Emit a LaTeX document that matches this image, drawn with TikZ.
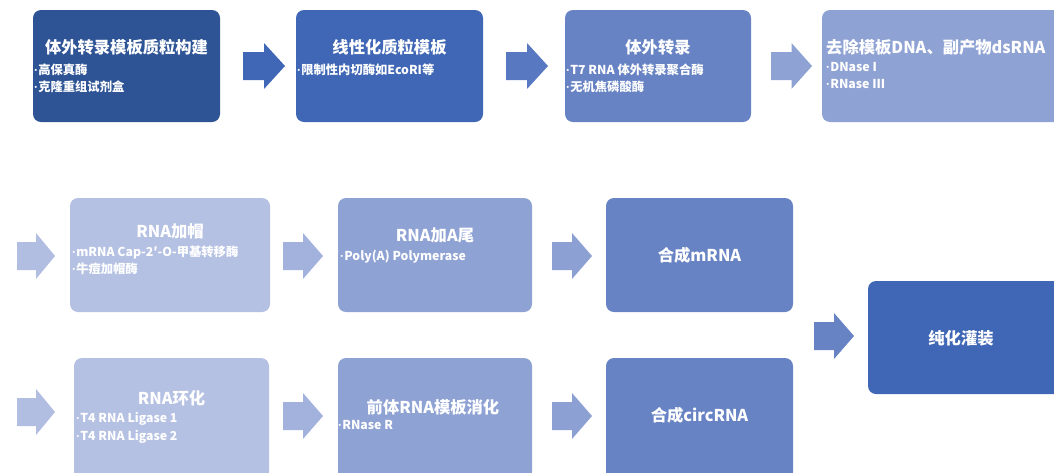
\documentclass[tikz,border=0pt]{standalone}
\usepackage{fontspec}
\setmainfont{Noto Sans CJK SC}
\newfontfamily\dotfont{Liberation Sans}
\newcommand\bu{{\dotfont\bfseries ·}}
\definecolor{cA}{RGB}{46,84,150}
\definecolor{cB}{RGB}{64,103,181}
\definecolor{cC}{RGB}{103,131,196}
\definecolor{cD}{RGB}{143,162,212}
\definecolor{cE}{RGB}{181,193,227}
\definecolor{aB}{RGB}{88,120,193}
\definecolor{aE}{RGB}{178,190,225}
\definecolor{aF}{RGB}{163,178,220}
\definecolor{aG}{RGB}{141,160,211}
\tikzset{
  boxshape/.style={rounded corners=8pt},
  title/.style={text=white,font=\bfseries\fontsize{16.3}{18}\selectfont,inner sep=0pt},
  bul/.style={text=white,font=\bfseries\fontsize{12.3}{17.5}\selectfont,inner sep=0pt,align=left,anchor=north west},
}
% block arrow: #1 name, #2 left x, #3 centre y, #4 length, #5 colour
\newcommand\blockarrow[5]{%
  \coordinate (#1) at (#2,#3);
  \fill[#5] ($(#1)+(0,-14)$) -- ($(#1)+(#4*0.5,-14)$) -- ($(#1)+(#4*0.5,-23)$)
    -- ($(#1)+(#4,0)$) -- ($(#1)+(#4*0.5,23)$) -- ($(#1)+(#4*0.5,14)$)
    -- ($(#1)+(0,14)$) -- cycle;}
\usetikzlibrary{calc}
\begin{document}
\begin{tikzpicture}[x=1pt,y=-1pt]
\useasboundingbox (0,0) rectangle (1054,472);
\clip (0,0) rectangle (1054,472);
% row 1
\fill[cA,boxshape] (33,10) rectangle (220,122);
\node[title] (t1) at (126.5,47) {体外转录模板质粒构建};
\node[bul] (b1) at (34,63.5) {\bu 高保真酶\\\bu 克隆重组试剂盒};
\blockarrow{a1}{243}{66}{42}{cB}
\fill[cB,boxshape] (296,10) rectangle (483,122);
\node[title] (t2) at (389.5,47) {线性化质粒模板};
\node[bul] (b2) at (297,63.5) {\bu 限制性内切酶如EcoRI等};
\blockarrow{a2}{506}{66}{42}{aB}
\fill[cC,boxshape] (565,10) rectangle (751,122);
\node[title] (t3) at (658,47) {体外转录};
\node[bul] (b3) at (566,63.5) {\bu T7 RNA 体外转录聚合酶\\\bu 无机焦磷酸酶};
\blockarrow{a3}{771}{66}{41}{cD}
\fill[cD,boxshape] (822,10) rectangle (1070,122);
\node[title,anchor=west] (t4) at (826,47) {去除模板DNA、副产物dsRNA};
\node[bul] (b4) at (826,62) {\bu DNase I\\\bu RNase III};
% row 2
\blockarrow{a4}{17}{256}{38}{aE}
\fill[cE,boxshape] (70,198) rectangle (270,312);
\node[title] (t5) at (170,231) {RNA加帽};
\node[bul] (b5) at (72,245.5) {\bu mRNA Cap-2′-O-甲基转移酶\\\bu 牛痘加帽酶};
\blockarrow{a5}{283}{256}{40}{aF}
\fill[cD,boxshape] (338,198) rectangle (532,312);
\node[title] (t6) at (435,235) {RNA加A尾};
\node[bul] (b6) at (340,250) {\bu Poly(A) Polymerase};
\blockarrow{a6}{552}{256}{40}{aG}
\fill[cC,boxshape] (606,198) rectangle (793,312);
\node[title] (t7) at (699.5,255) {合成mRNA};
% purification
\blockarrow{a7}{814}{336}{40}{cC}
\fill[cB,boxshape] (868,281) rectangle (1070,394);
\node[title] (t8) at (961,338) {纯化灌装};
% row 3
\blockarrow{a8}{17}{412}{38}{aE}
\fill[cE,boxshape] (74,358) rectangle (269,480);
\node[title] (t9) at (171.5,398) {RNA环化};
\node[bul] (b9) at (76,412.5) {\bu T4 RNA Ligase 1\\\bu T4 RNA Ligase 2};
\blockarrow{a9}{283}{416}{40}{aF}
\fill[cD,boxshape] (338,358) rectangle (532,480);
\node[title] (t10) at (433,407) {前体RNA模板消化};
\node[bul] (b10) at (338,420) {\bu RNase R};
\blockarrow{a10}{552}{416}{40}{aG}
\fill[cC,boxshape] (606,358) rectangle (793,480);
\node[title] (t11) at (699.5,415) {合成circRNA};
\end{tikzpicture}
\end{document}
